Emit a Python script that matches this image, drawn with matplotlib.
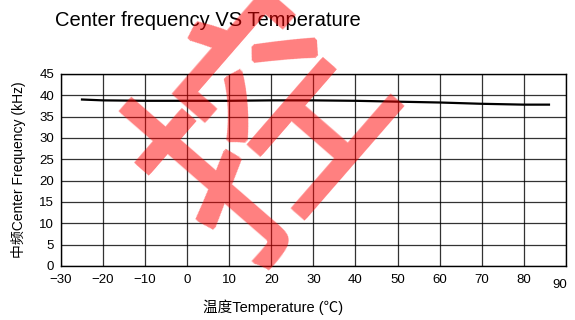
import matplotlib
matplotlib.use("Agg")
import matplotlib.pyplot as plt
import numpy as np

# Data
temperature = [-25, -20, -10, 0, 10, 20, 30, 40, 50, 60, 70, 80, 86]
center_freq = [39.0, 38.8, 38.7, 38.7, 38.7, 38.8, 38.8, 38.7, 38.5, 38.3, 38.0, 37.8, 37.8]
x_ticks = [-30, -20, -10, 0, 10, 20, 30, 40, 50, 60, 70, 80, 90]
y_ticks = [0, 5, 10, 15, 20, 25, 30, 35, 40, 45]
title_text = "Center frequency VS Temperature"
x_label = "温度Temperature (℃)"
y_label = "中频Center Frequency (kHz)"
watermark = "控"

fonts = ["Liberation Sans", "Noto Sans CJK SC", "DejaVu Sans"]
plt.rcParams["font.family"] = fonts

fig = plt.figure(figsize=(5.75, 3.2), dpi=100)
ax = fig.add_axes([0.106, 0.169, 0.878, 0.600])

ax.plot(temperature, center_freq, color="black", lw=1.6, zorder=3)

ax.set_xlim(-30, 90)
ax.set_ylim(0, 45)
ax.set_xticks(x_ticks)
ax.set_yticks(y_ticks)
ax.grid(True, color="black", lw=0.9, alpha=0.8)
ax.tick_params(length=0, labelsize=9.5, pad=6)
ax.tick_params(axis="y", pad=5)
for s in ax.spines.values():
    s.set_color("black")
    s.set_linewidth(1.0)

labels = ax.get_xticklabels()
lbl = labels[-1]
lbl.set_transform(lbl.get_transform() + matplotlib.transforms.ScaledTranslation(-0.06, -0.05, fig.dpi_scale_trans))

fig.text(0.096, 0.935, title_text, fontsize=14.5, ha="left", va="center")
fig.text(0.475, 0.04, x_label, fontsize=10.5, ha="center", va="center")
fig.text(0.032, 0.47, y_label, fontsize=10, ha="center", va="center", rotation=90)


def thicken(im, dpi, r=2):
    a = im[..., 3]
    pad = r + 1
    ap = np.pad(a, pad)
    out = np.zeros_like(ap)
    h, w = ap.shape
    for dy in range(-r, r + 1):
        for dx in range(-r, r + 1):
            if dx * dx + dy * dy <= r * r + 0.5:
                out = np.maximum(out, np.roll(np.roll(ap, dy, axis=0), dx, axis=1))
    res = np.zeros((h, w, 4), dtype=im.dtype)
    res[..., 0] = 1.0
    res[..., 1] = 0.0
    res[..., 2] = 0.0
    res[..., 3] = out * 0.5
    return res, -pad, -pad


wm = fig.text(269 / 575, 1 - 132 / 320, watermark, fontsize=170, color="red",
              family=["Noto Sans CJK SC"], fontweight="normal",
              rotation=49, ha="center", va="center", rotation_mode="anchor", zorder=10)
wm.set_agg_filter(thicken)

fig.savefig("out.png", dpi=100)
